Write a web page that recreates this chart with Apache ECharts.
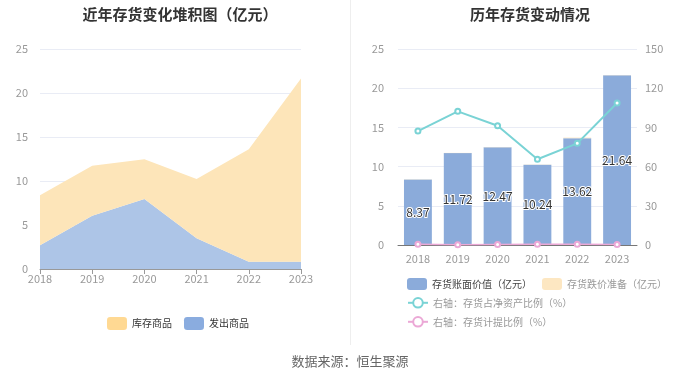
<!DOCTYPE html>
<html><head><meta charset="utf-8">
<script src="https://cdn.jsdelivr.net/npm/echarts@6/dist/echarts.min.js"></script>
<style>html,body{margin:0;padding:0;background:#fff}#c{width:700px;height:378px}</style>
</head><body><div id="c"></div>
<script>
const years = ['2018','2019','2020','2021','2022','2023'];
const stockGoods = [5.67, 5.66, 4.52, 6.74, 12.79, 20.81];   // 库存商品
const shippedGoods = [2.70, 6.06, 7.95, 3.50, 0.83, 0.83];   // 发出商品
const bookValue = [8.37, 11.72, 12.47, 10.24, 13.62, 21.64]; // 存货账面价值
const impairment = [0.03, 0.03, 0.03, 0.03, 0.08, 0.03];      // 存货跌价准备
const ratioNetAssets = [87.2, 102.3, 91.3, 65.6, 77.8, 108.7]; // 存货占净资产比例
const provisionRatio = [0.6, 0.2, 0.3, 0.5, 0.5, 0.3];        // 存货计提比例
const leftTicks = [0, 5, 10, 15, 20, 25];
const rightTicks = [0, 30, 60, 90, 120, 150];

const font = '"Noto Sans CJK SC", "Noto Sans", sans-serif';
const chart = echarts.init(document.getElementById('c'));
const gridLine = {show: true, lineStyle: {color: '#E9ECF5'}};
chart.setOption({
  textStyle: {fontFamily: font},
  animation: false,
  graphic: [
    {type: 'line', shape: {x1: 350.5, y1: 0, x2: 350.5, y2: 345}, style: {stroke: '#EEEEEE', lineWidth: 1}},
    {type: 'text', left: 'center', top: 355, style: {text: '数据来源：恒生聚源', font: '13px ' + font, fill: '#666'}}
  ],
  title: [
    {text: '近年存货变化堆积图（亿元）', left: 175, textAlign: 'center', top: 2, textStyle: {fontSize: 15, fontWeight: 'bold', color: '#333', fontFamily: font}},
    {text: '历年存货变动情况', left: 525, textAlign: 'center', top: 2, textStyle: {fontSize: 15, fontWeight: 'bold', color: '#333', fontFamily: font}}
  ],
  legend: [
    {data: ['库存商品', '发出商品'], left: 102, top: 312, itemWidth: 20, itemHeight: 13, itemGap: 12,
     icon: 'roundRect', textStyle: {fontSize: 10, color: '#333'}},
    {data: [
       {name: '存货账面价值（亿元）', textStyle: {color: '#444'}},
       {name: '存货跌价准备（亿元）', textStyle: {color: '#999'}}
     ], left: 402, top: 273, itemWidth: 20, itemHeight: 12, itemGap: 10, icon: 'roundRect', textStyle: {fontSize: 10}},
    {data: [{name: '右轴：存货占净资产比例（%）'}], left: 402, top: 292, itemWidth: 20, itemHeight: 12, textStyle: {fontSize: 10, color: '#999'}},
    {data: [{name: '右轴：存货计提比例（%）'}], left: 402, top: 311, itemWidth: 20, itemHeight: 12, textStyle: {fontSize: 10, color: '#999'}}
  ],
  grid: [
    {left: 40, right: 399, top: 49, height: 220},
    {left: 398, right: 63, top: 49, height: 196}
  ],
  xAxis: [
    {type: 'category', gridIndex: 0, data: years, boundaryGap: false,
     axisLine: {lineStyle: {color: '#999'}}, axisTick: {show: true, lineStyle: {color: '#999'}},
     axisLabel: {color: '#999', fontSize: 11, margin: 4}},
    {type: 'category', gridIndex: 1, data: years,
     axisLine: {lineStyle: {color: '#777'}}, axisTick: {show: false},
     axisLabel: {color: '#999', fontSize: 11, margin: 8}}
  ],
  yAxis: [
    {type: 'value', gridIndex: 0, min: leftTicks[0], max: leftTicks[leftTicks.length - 1], interval: 5,
     axisLine: {show: false}, axisTick: {show: false}, splitLine: gridLine,
     axisLabel: {color: '#999', fontSize: 11, margin: 12}},
    {type: 'value', gridIndex: 1, min: leftTicks[0], max: leftTicks[leftTicks.length - 1], interval: 5,
     axisLine: {show: false}, axisTick: {show: false}, splitLine: gridLine,
     axisLabel: {color: '#999', fontSize: 11, margin: 14}},
    {type: 'value', gridIndex: 1, position: 'right', min: rightTicks[0], max: rightTicks[rightTicks.length - 1], interval: 30,
     axisLine: {show: false}, axisTick: {show: false}, splitLine: {show: false},
     axisLabel: {color: '#999', fontSize: 11, margin: 8}}
  ],
  series: [
    {name: '发出商品', type: 'line', stack: 'a', xAxisIndex: 0, yAxisIndex: 0, data: shippedGoods,
     symbol: 'none', lineStyle: {width: 0}, itemStyle: {color: '#8AACDF'}, areaStyle: {color: '#ADC5E7', opacity: 1}},
    {name: '库存商品', type: 'line', stack: 'a', xAxisIndex: 0, yAxisIndex: 0, data: stockGoods,
     symbol: 'none', lineStyle: {width: 0}, itemStyle: {color: '#FFD993'}, areaStyle: {color: '#FDE5B9', opacity: 1}},
    {name: '存货账面价值（亿元）', type: 'bar', stack: 'b', xAxisIndex: 1, yAxisIndex: 1, data: bookValue,
     barWidth: '70%', itemStyle: {color: '#8BABDA'},
     label: {show: true, position: 'inside', color: '#333', fontSize: 12, textBorderColor: '#fff', textBorderWidth: 2}},
    {name: '存货跌价准备（亿元）', type: 'bar', stack: 'b', xAxisIndex: 1, yAxisIndex: 1, data: impairment,
     barWidth: '70%', itemStyle: {color: '#FDE7C2'}},
    {name: '右轴：存货占净资产比例（%）', type: 'line', xAxisIndex: 1, yAxisIndex: 2, data: ratioNetAssets,
     symbol: 'emptyCircle', symbolSize: 5, itemStyle: {color: '#7AD3D5'}, lineStyle: {width: 2, color: '#7AD3D5'}},
    {name: '右轴：存货计提比例（%）', type: 'line', xAxisIndex: 1, yAxisIndex: 2, data: provisionRatio,
     symbol: 'emptyCircle', symbolSize: 5, itemStyle: {color: '#EBA8D6'}, lineStyle: {width: 1.5, color: '#EBA8D6'}}
  ]
});
</script></body></html>
